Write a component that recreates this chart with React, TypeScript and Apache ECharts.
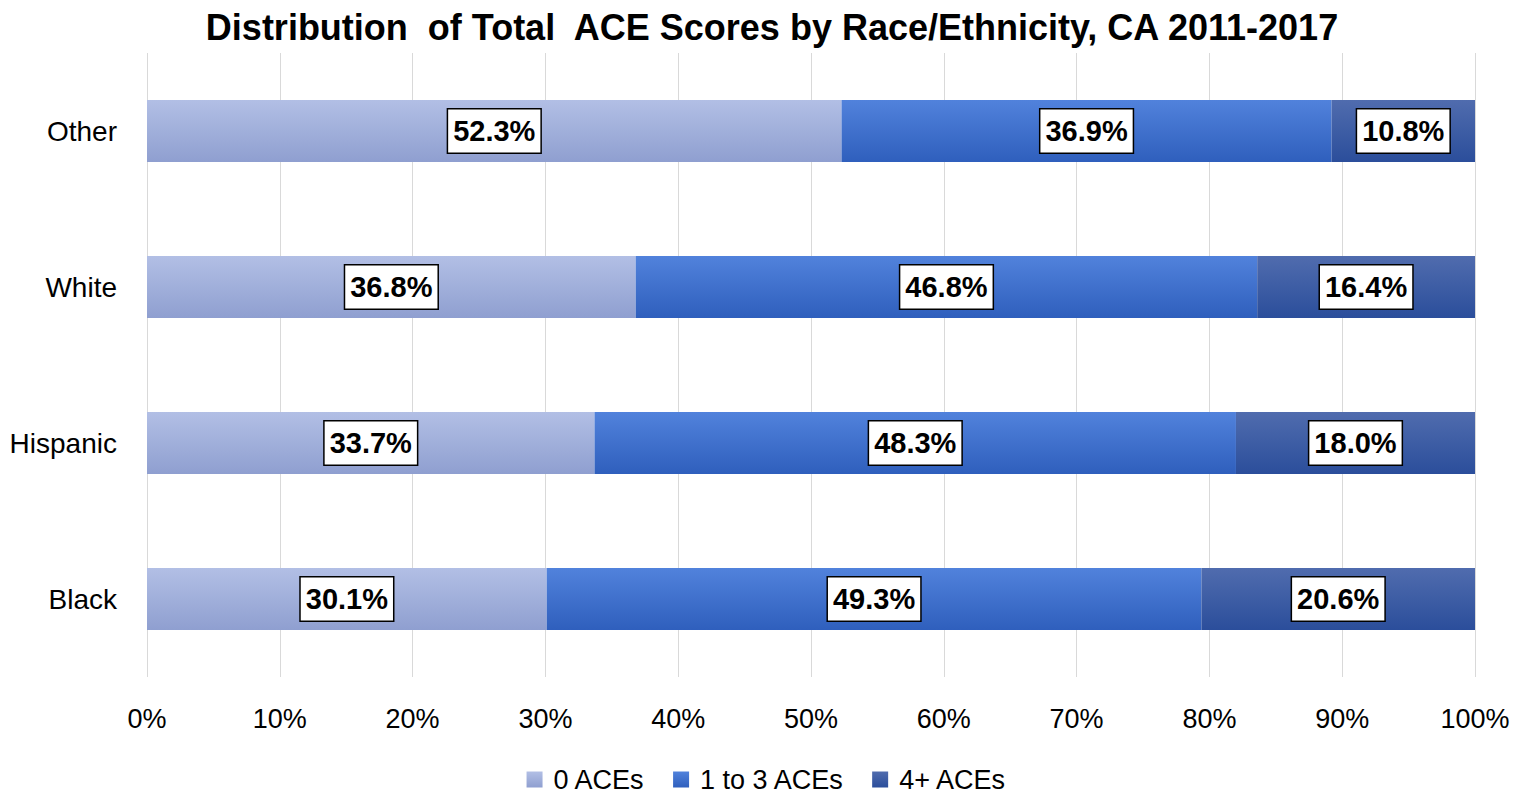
import React, { useEffect, useRef } from "react";
import * as echarts from "echarts";

const categories = ["Black", "Hispanic", "White", "Other"];
const zeroAces = [30.1, 33.7, 36.8, 52.3];
const oneToThree = [49.3, 48.3, 46.8, 36.9];
const fourPlus = [20.6, 18.0, 16.4, 10.8];
const seriesNames = ["0 ACEs", "1 to 3 ACEs", "4+ ACEs"];

const FONT = "'Liberation Sans', Arial, sans-serif";

const grad = (top: string, bottom: string) =>
  new echarts.graphic.LinearGradient(0, 0, 0, 1, [
    { offset: 0, color: top },
    { offset: 1, color: bottom },
  ]);

export default function App() {
  const ref = useRef<HTMLDivElement>(null);
  useEffect(() => {
    if (!ref.current) return;
    const chart = echarts.init(ref.current, null, { renderer: "svg" });
    const label = {
      show: true,
      position: "inside",
      formatter: (p: any) => Number(p.value).toFixed(1) + "%",
      color: "#000",
      fontFamily: FONT,
      fontWeight: "bold",
      fontSize: 29,
      backgroundColor: "#fff",
      borderColor: "#000",
      borderWidth: 1.5,
      padding: [8, 5, 6, 5],
    };
    const colors = [
      grad("#b2bfe5", "#8f9fd0"),
      grad("#5182dc", "#2f5fbd"),
      grad("#506cae", "#2b4e9b"),
    ];
    const datas = [zeroAces, oneToThree, fourPlus];
    chart.setOption({
      animation: false,
      title: {
        text: "Distribution  of Total  ACE Scores by Race/Ethnicity, CA 2011-2017",
        left: 767,
        top: 4,
        textAlign: "center",
        textStyle: { fontFamily: FONT, fontWeight: "bold", fontSize: 36, color: "#000" },
      },
      legend: {
        bottom: 0,
        left: "center",
        itemWidth: 16,
        itemHeight: 16,
        itemGap: 28,
        icon: "rect",
        textStyle: { fontFamily: FONT, fontSize: 27, color: "#000", padding: [0, 0, 0, 6] },
        data: seriesNames,
      },
      grid: { left: 147, right: 58, top: 53, bottom: 121, containLabel: false },
      xAxis: {
        type: "value",
        min: 0,
        max: 100,
        interval: 10,
        axisLine: { show: false },
        axisTick: { show: false },
        splitLine: { show: true, lineStyle: { color: "#d9d9d9", width: 1 } },
        axisLabel: {
          formatter: "{value}%",
          fontFamily: FONT,
          fontSize: 27,
          color: "#000",
          margin: 28,
        },
      },
      yAxis: {
        type: "category",
        data: categories,
        axisLine: { show: false },
        axisTick: { show: false },
        axisLabel: { fontFamily: FONT, fontSize: 28, color: "#000", margin: 30 },
      },
      series: seriesNames.map((name, i) => ({
        name,
        type: "bar",
        stack: "total",
        barWidth: 62,
        data: datas[i],
        itemStyle: { color: colors[i] },
        label,
      })),
    });
    return () => chart.dispose();
  }, []);
  return (
    <div
      ref={ref}
      style={{ position: "fixed", left: 0, top: 0, width: 1533, height: 798, background: "#fff" }}
    />
  );
}
